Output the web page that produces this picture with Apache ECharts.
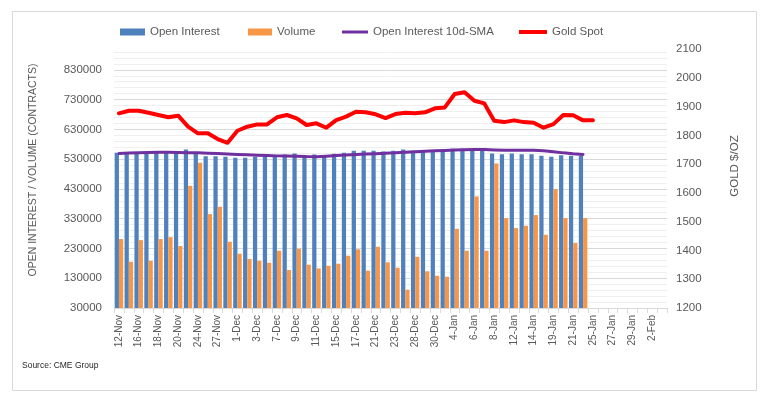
<!DOCTYPE html>
<html><head><meta charset="utf-8">
<script src="https://cdn.jsdelivr.net/npm/echarts@6/dist/echarts.min.js"></script>
<style>html,body{margin:0;padding:0;background:#fff}#c{width:778px;height:394px}</style>
</head><body><div id="c"></div>
<script>
const categories = ['12-Nov','13-Nov','16-Nov','17-Nov','18-Nov','19-Nov','20-Nov','23-Nov','24-Nov','25-Nov','27-Nov','30-Nov',
  '1-Dec','2-Dec','3-Dec','4-Dec','7-Dec','8-Dec','9-Dec','10-Dec','11-Dec','14-Dec','15-Dec','16-Dec','17-Dec','18-Dec',
  '21-Dec','22-Dec','23-Dec','24-Dec','28-Dec','29-Dec','30-Dec','31-Dec','4-Jan','5-Jan','6-Jan','7-Jan','8-Jan',
  '11-Jan','12-Jan','13-Jan','14-Jan','15-Jan','19-Jan','20-Jan','21-Jan','22-Jan','25-Jan','26-Jan','27-Jan','28-Jan',
  '29-Jan','1-Feb','2-Feb','3-Feb'];
const openInterest = [551100,551100,551100,551100,551100,551100,551100,562600,549000,540000,540000,537700,
  534400,534400,537700,537700,540000,545700,549000,538900,545700,541200,547900,551100,557900,557900,
  557900,555800,557900,562600,557900,554700,554700,554700,564700,564700,564700,564700,549000,
  546800,549000,546800,546800,541200,537700,543400,541200,541200];
const volume = [261500,185400,258000,188700,261500,268000,238000,440400,517600,345400,370000,252500,
  212200,194400,188700,182000,222300,157500,229000,175300,163000,172000,178700,205500,226900,155200,
  235700,183400,165200,91400,202100,153200,138400,135000,296100,222300,404800,222300,515600,
  332000,298500,306200,342100,276000,429300,332000,248100,332000];
const oiSMA = [549000,550500,551500,552500,553500,553000,552000,551500,551100,550000,549000,547500,
  546000,545000,543400,542000,541000,540500,540000,538500,538000,540000,542000,544000,545700,547000,
  548500,550000,551100,553000,555000,556500,557900,559000,560500,561500,562600,562000,561000,
  560200,560200,560000,559500,557900,555000,551100,548000,545700];
const goldSpot = [1876.5,1885.6,1885.6,1878.7,1870.6,1862.6,1868.3,1830,1807,1807,1787,1774,
  1816,1830,1838,1838,1862.6,1870.6,1859,1836,1841.7,1826.5,1853,1865,1882,1880,
  1873,1860,1874,1878.7,1876.5,1880,1894,1897,1943.6,1949.5,1920,1911,1851,
  1846,1852,1846,1844,1826.5,1839,1870.6,1869.5,1852,1852];

const FONT = '"Liberation Sans", Arial, sans-serif';
const TXT = '#595959';
const chart = echarts.init(document.getElementById('c'), null, {renderer: 'canvas'});

function legendAt(name, left, icon, w, h) {
  return {
    left: left, top: 21, data: [{name: name, icon: icon}],
    itemWidth: w, itemHeight: h, selectedMode: false,
    textStyle: {fontFamily: FONT, fontSize: 11.5, color: TXT}
  };
}
const plain = v => String(v);

chart.setOption({
  animation: false,
  backgroundColor: '#fff',
  grid: {left: 114, right: 111, top: 49, bottom: 86, containLabel: false},
  legend: [
    legendAt('Open Interest', 115, 'rect', 25, 7),
    legendAt('Volume', 243, 'rect', 24, 7),
    legendAt('Open Interest 10d-SMA', 337, 'rect', 26, 3),
    legendAt('Gold Spot', 514, 'rect', 28, 4)
  ],
  xAxis: {
    type: 'category', data: categories, boundaryGap: true,
    axisLine: {show: true, lineStyle: {color: '#d9d9d9'}},
    axisTick: {show: true, interval: 0, length: 5, lineStyle: {color: '#d9d9d9'}},
    axisLabel: {interval: 1, rotate: 90, fontFamily: FONT, fontSize: 10, color: TXT, margin: 7},
    splitLine: {show: false}
  },
  yAxis: [
    {
      type: 'value', position: 'left', min: 30000, max: 900000, interval: 100000, z: 1,
      axisLine: {show: false}, axisTick: {show: false},
      axisLabel: {fontFamily: FONT, fontSize: 11.5, color: TXT, margin: 12, showMaxLabel: false, formatter: plain},
      splitLine: {show: true, showMaxLine: false, lineStyle: {color: '#d9d9d9', width: 1}}
    },
    {
      type: 'value', position: 'right', min: 1200, max: 2100, interval: 100,
      axisLine: {show: false}, axisTick: {show: false},
      axisLabel: {fontFamily: FONT, fontSize: 11.5, color: TXT, margin: 9, formatter: plain},
      splitLine: {show: false}
    },
    {
      type: 'value', position: 'left', min: 30000, max: 900000, interval: 20000, z: 0,
      axisLine: {show: false}, axisTick: {show: false}, axisLabel: {show: false},
      splitLine: {show: true, showMaxLine: false, lineStyle: {color: '#efefef', width: 1}}
    }
  ],
  series: [
    {name: 'Open Interest', type: 'bar', data: openInterest, yAxisIndex: 0, barWidth: '43%', barGap: '0%',
      itemStyle: {color: '#4f81bd'}, z: 2},
    {name: 'Volume', type: 'bar', data: volume, yAxisIndex: 0, barWidth: '43%', barGap: '0%',
      itemStyle: {color: '#f79646'}, z: 2},
    {name: 'Open Interest 10d-SMA', type: 'line', data: oiSMA, yAxisIndex: 0, showSymbol: false, symbol: 'none',
      color: '#7030a0', lineStyle: {color: '#7030a0', width: 3, cap: 'round', join: 'round'}, z: 3},
    {name: 'Gold Spot', type: 'line', data: goldSpot, yAxisIndex: 1, showSymbol: false, symbol: 'none',
      color: '#ff0000', lineStyle: {color: '#ff0000', width: 4, cap: 'round', join: 'round'}, z: 4}
  ],
  graphic: [
    {type: 'rect', shape: {x: 12.5, y: 11.5, width: 744, height: 379}, style: {fill: null, stroke: '#d9d9d9', lineWidth: 1}, silent: true},
    {type: 'text', x: 33, y: 170, rotation: Math.PI / 2,
      style: {text: 'OPEN INTEREST / VOLUME (CONTRACTS)', font: '10.5px ' + FONT, fill: TXT, textAlign: 'center', textVerticalAlign: 'middle'}},
    {type: 'text', x: 735, y: 166, rotation: Math.PI / 2,
      style: {text: 'GOLD $/OZ', font: '11.5px ' + FONT, fill: TXT, textAlign: 'center', textVerticalAlign: 'middle'}},
    {type: 'text', x: 22, y: 366,
      style: {text: 'Source: CME Group', font: '8.5px ' + FONT, fill: '#262626', textAlign: 'left', textVerticalAlign: 'middle'}}
  ]
});
</script>
</body></html>
